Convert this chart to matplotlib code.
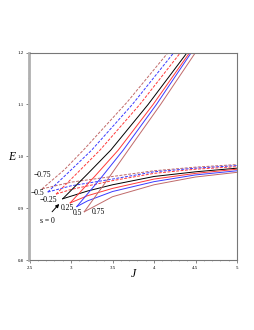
import matplotlib
matplotlib.use("Agg")
import matplotlib.pyplot as plt
from matplotlib.ticker import MultipleLocator

# spin values
s_values = [-0.75, -0.5, -0.25, 0.0, 0.25, 0.5, 0.75]

# upper (steep) branches: J and E points, starting at the cusp
upper_J = {
    -0.75: [2.65, 2.92, 3.15, 3.68, 4.17],
    -0.5:  [2.72, 2.99, 3.25, 3.74, 4.24],
    -0.25: [2.82, 3.09, 3.35, 3.83, 4.32],
    0.0:   [2.90, 3.20, 3.48, 3.93, 4.40],
    0.25:  [2.99, 3.29, 3.57, 3.99, 4.43],
    0.5:   [3.07, 3.36, 3.63, 4.03, 4.45],
    0.75:  [3.16, 3.44, 3.69, 4.08, 4.50],
}
upper_E = {
    -0.75: [0.937, 0.974, 1.012, 1.105, 1.2],
    -0.5:  [0.931, 0.972, 1.012, 1.100, 1.2],
    -0.25: [0.927, 0.970, 1.012, 1.100, 1.2],
    0.0:   [0.918, 0.966, 1.012, 1.100, 1.2],
    0.25:  [0.910, 0.962, 1.012, 1.100, 1.2],
    0.5:   [0.903, 0.958, 1.012, 1.100, 1.2],
    0.75:  [0.893, 0.955, 1.012, 1.100, 1.2],
}

# lower (shallow) branches
lower_J = {
    -0.75: [2.65, 3.0, 3.5, 4.0, 4.5, 5.0],
    -0.5:  [2.72, 3.0, 3.5, 4.0, 4.5, 5.0],
    -0.25: [2.82, 3.0, 3.5, 4.0, 4.5, 5.0],
    0.0:   [2.90, 3.2, 3.5, 4.0, 4.5, 5.0],
    0.25:  [2.99, 3.2, 3.5, 4.0, 4.5, 5.0],
    0.5:   [3.07, 3.2, 3.5, 4.0, 4.5, 5.0],
    0.75:  [3.16, 3.5, 4.0, 4.5, 5.0],
}
lower_E = {
    -0.75: [0.937, 0.950, 0.961, 0.972, 0.979, 0.984],
    -0.5:  [0.931, 0.943, 0.956, 0.970, 0.977, 0.982],
    -0.25: [0.927, 0.936, 0.953, 0.967, 0.975, 0.980],
    0.0:   [0.918, 0.933, 0.945, 0.961, 0.970, 0.977],
    0.25:  [0.910, 0.924, 0.938, 0.956, 0.967, 0.975],
    0.5:   [0.903, 0.914, 0.932, 0.951, 0.964, 0.972],
    0.75:  [0.893, 0.922, 0.945, 0.960, 0.969],
}

labels = ["\u22120.75", "\u22120.5", "\u22120.25", "s = 0", "0.25", "0.5", "0.75"]
label_J = [2.66, 2.60, 2.73, 2.71, 2.96, 3.08, 3.33]
label_E = [0.964, 0.929, 0.916, 0.875, 0.900, 0.891, 0.893]

x_ticks = [2.5, 3, 3.5, 4, 4.5, 5]
x_ticklabels = ["2.5", "3", "3.5", "4", "4.5", "5"]
y_ticks = [0.8, 0.9, 1.0, 1.1, 1.2]
y_ticklabels = ["0.8", "0.9", "1.0", "1.1", "1.2"]

colors = {-0.75: "#c06a6a", -0.5: "#3a3aff", -0.25: "#ff3a3a", 0.0: "#000000",
          0.25: "#ff3a3a", 0.5: "#3a3aff", 0.75: "#c06a6a"}

fig = plt.figure(figsize=(2.55, 3.30), dpi=100)
ax = fig.add_axes([29.5/255, 1-260/330, (237-29.5)/255, (260-52.5)/330])

for s in s_values:
    ls = (0, (3, 1.5)) if s < 0 else "-"
    ax.plot(upper_J[s], upper_E[s], color=colors[s], lw=0.7, ls=ls)
    ax.plot(lower_J[s], lower_E[s], color=colors[s], lw=0.7, ls=ls)

for t, xj, ye in zip(labels, label_J, label_E):
    ax.text(xj, ye, t, fontsize=5.5, family="Liberation Serif", ha="center", va="center")

ax.annotate("", xy=(2.88, 0.912), xytext=(2.75, 0.889),
            arrowprops=dict(arrowstyle="-|>", lw=0.7, color="black", mutation_scale=5))

ax.set_xlim(2.5, 5)
ax.set_ylim(0.8, 1.2)
ax.set_xticks(x_ticks)
ax.set_xticklabels(x_ticklabels)
ax.set_yticks(y_ticks)
ax.set_yticklabels(y_ticklabels)
ax.xaxis.set_minor_locator(MultipleLocator(0.1))
ax.yaxis.set_minor_locator(MultipleLocator(0.05))
ax.tick_params(which="major", length=2, width=0.5, labelsize=3.5, pad=2, colors="#555555")
ax.tick_params(which="minor", length=1, width=0.4, colors="#888888")
for lab in ax.get_xticklabels() + ax.get_yticklabels():
    lab.set_family("Liberation Serif")
    lab.set_color("black")

for side in ["top", "right", "bottom"]:
    ax.spines[side].set_color("#777777")
    ax.spines[side].set_linewidth(0.8)
ax.spines["left"].set_color("#b0b0b0")
ax.spines["left"].set_linewidth(2.0)

fig.text(12/255, 1-157/330, "E", fontsize=8.5, family="Liberation Serif", style="italic",
         ha="center", va="center")
fig.text(133/255, 1-274/330, "J", fontsize=8.5, family="Liberation Serif", style="italic",
         ha="center", va="center")

fig.savefig("out.png", dpi=100)
